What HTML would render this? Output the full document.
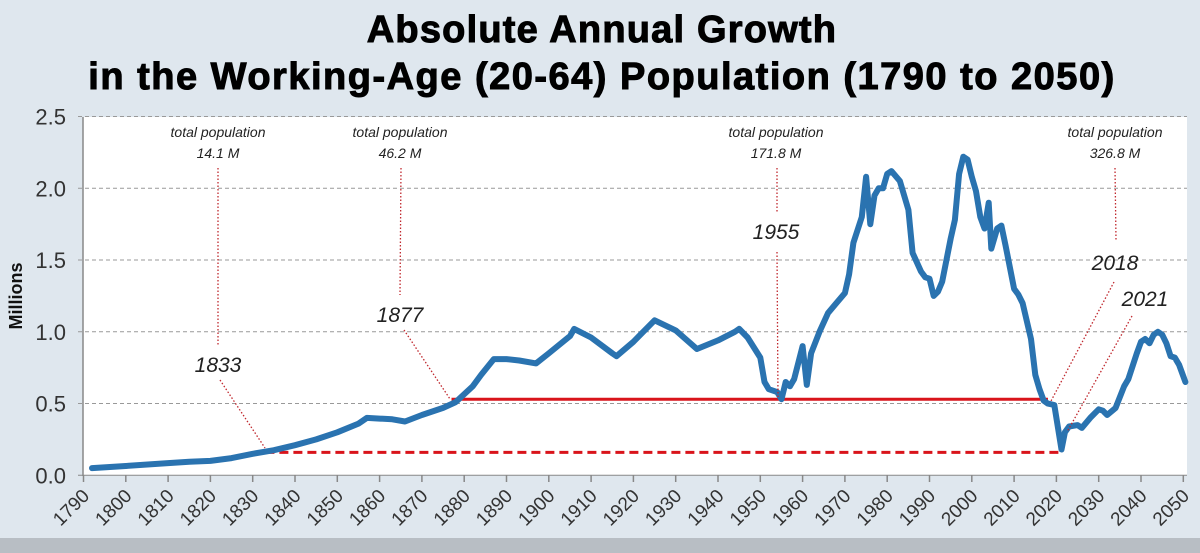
<!DOCTYPE html>
<html><head><meta charset="utf-8">
<style>
html,body{margin:0;padding:0;width:1200px;height:553px;overflow:hidden;background:#dfe7ee;font-family:"Liberation Sans",sans-serif;}
</style></head>
<body>
<svg id="chart" width="1200" height="553" xmlns="http://www.w3.org/2000/svg">
<rect x="0" y="0" width="1200" height="553" fill="#dfe7ee"/>
<rect x="0" y="538" width="1200" height="15" fill="#b8bec4"/>
<text x="602" y="42" text-anchor="middle" font-size="38" font-weight="bold" letter-spacing="1.2" fill="#000" stroke="#000" stroke-width="1">Absolute Annual Growth</text>
<text x="602" y="89" text-anchor="middle" font-size="38" font-weight="bold" letter-spacing="1.5" fill="#000" stroke="#000" stroke-width="1">in the Working-Age (20-64) Population (1790 to 2050)</text>
<rect x="83" y="117" width="1104" height="358" fill="#fff"/>
<g id="grid"></g><g id="axes"></g><g id="refs"></g><g id="series"></g><g id="annot"></g>
<text x="22" y="296" transform="rotate(-90 22 296)" text-anchor="middle" font-size="18" font-weight="bold" fill="#111">Millions</text>
</svg>
<script>
const years=[1792,1800,1810,1815,1820,1825,1830,1835,1840,1845,1850,1855,1857,1860,1863,1866,1870,1875,1878,1882,1884,1887,1890,1893,1897,1900,1905,1906,1910,1915,1916,1920,1925,1930,1935,1940,1944,1945,1947,1950,1951,1952,1954,1955,1956,1957,1958,1960,1961,1962,1964,1966,1968,1970,1971,1972,1974,1975,1976,1977,1978,1979,1980,1981,1983,1985,1986,1988,1989,1990,1991,1992,1993,1995,1996,1997,1998,1999,2000,2001,2002,2003,2004,2004.6,2005,2006,2007,2008,2010,2011,2012,2014,2015,2016,2017,2018,2019.5,2021.2,2022,2023,2025,2026,2028,2030,2031,2032,2034,2036,2037,2039,2040,2041,2042,2043,2044,2045,2046,2047,2048,2049,2050.5];
const growth=[0.05,0.065,0.085,0.095,0.1,0.12,0.15,0.175,0.21,0.25,0.3,0.36,0.4,0.395,0.39,0.375,0.42,0.47,0.51,0.62,0.7,0.81,0.81,0.8,0.78,0.85,0.97,1.02,0.96,0.85,0.83,0.93,1.08,1.01,0.88,0.94,1.0,1.02,0.96,0.82,0.65,0.6,0.58,0.53,0.65,0.62,0.67,0.9,0.63,0.85,1.0,1.13,1.2,1.27,1.4,1.62,1.8,2.08,1.75,1.95,2.0,2.0,2.1,2.12,2.05,1.85,1.55,1.42,1.38,1.37,1.25,1.28,1.35,1.65,1.78,2.1,2.22,2.2,2.08,1.98,1.8,1.72,1.9,1.58,1.62,1.72,1.74,1.6,1.3,1.26,1.2,0.95,0.7,0.6,0.52,0.5,0.49,0.18,0.3,0.34,0.35,0.33,0.4,0.46,0.45,0.42,0.47,0.62,0.67,0.85,0.93,0.95,0.92,0.98,1.0,0.98,0.92,0.83,0.82,0.77,0.65];
const yTicks=[0,0.5,1.0,1.5,2.0,2.5];
const xTicks=[1790,1800,1810,1820,1830,1840,1850,1860,1870,1880,1890,1900,1910,1920,1930,1940,1950,1960,1970,1980,1990,2000,2010,2020,2030,2040,2050];
const refLevels=[0.53,0.16];
const refStarts=[1877,1833];
const refEnds=[2018,2021.2];
const annYears=[1833,1877,1955,2018,2021];
const annPops=["14.1 M","46.2 M","171.8 M","326.8 M"];

const NS="http://www.w3.org/2000/svg";
const X=y=>83.5+(y-1790)*4.23;
const Y=v=>475.3-v*143.5;
function mk(tag,attrs,parent,txt){const e=document.createElementNS(NS,tag);for(const k in attrs)e.setAttribute(k,attrs[k]);if(txt!==undefined)e.textContent=txt;document.getElementById(parent).appendChild(e);return e;}

yTicks.forEach(v=>{
  const l=mk('line',{x1:78,x2:1187,y1:Y(v),y2:Y(v),stroke:v===0?'#888':'#999','stroke-width':1,'stroke-dasharray':v===0?'':'4,3'},'grid');
  
  
  const t=mk('text',{x:66,y:Y(v)+8,'text-anchor':'end','font-size':22,fill:'#333'},'axes',v.toFixed(1));
  
  
});
const ax=mk('line',{x1:83,x2:83,y1:117,y2:476,stroke:'#888','stroke-width':1.5},'axes');


xTicks.forEach(yr=>{
  const x=X(yr);
  const tk=mk('line',{x1:x,x2:x,y1:475,y2:482,stroke:'#888','stroke-width':1.5},'axes');
  
  
  const t=mk('text',{x:x+7,y:497,'text-anchor':'end','font-size':19,fill:'#333',transform:`rotate(-45 ${x+7} 497)`},'axes',yr);
  
  
});
refLevels.forEach((v,i)=>{
  const l=mk('line',{x1:X(refStarts[i]),x2:X(refEnds[i]),y1:Y(v),y2:Y(v),stroke:'#d9141b','stroke-width':3,'stroke-dasharray':i===1?'9,5':''},'refs');
  
  
});
const pts=years.map((y,i)=>X(y).toFixed(1)+','+Y(growth[i]).toFixed(1)).join(' ');
const pl=mk('polyline',{points:pts,fill:'none',stroke:'#2a73b0','stroke-width':6,'stroke-linejoin':'round','stroke-linecap':'round'},'series');



function dot(x1,y1,x2,y2){const l=mk('line',{x1,y1,x2,y2,stroke:'#c0282e','stroke-width':1.3,'stroke-dasharray':'1.5,2'},'annot');

}
function txt(x,y,s,sz,name){const t=mk('text',{x,y,'text-anchor':'middle','font-size':sz,'font-style':'italic',fill:'#222'},'annot',s);

}
const popX=[218,400,776,1115];
popX.forEach((x,i)=>{txt(x,137,'total population',14,'total-population-label');txt(x,158,annPops[i],14,'total-population-value');});
dot(218,168,218,345);txt(218,372,String(annYears[0]),21,'year-label-1833');dot(220,380,265,448);
dot(401,168,400,295);txt(400,322,String(annYears[1]),21,'year-label-1877');dot(404,330,450,399);
dot(777,168,777,212);txt(776,239,String(annYears[2]),21,'year-label-1955');dot(777,252,778,398);
dot(1115,168,1116,240);txt(1115,270,String(annYears[3]),21,'year-label-2018');dot(1114,282,1051,401);
txt(1145,306,String(annYears[4]),21,'year-label-2021');dot(1132,316,1067,432);
</script>
</body></html>
